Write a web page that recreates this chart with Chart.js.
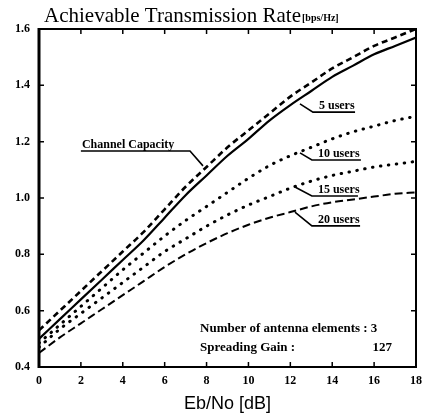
<!DOCTYPE html>
<html>
<head>
<meta charset="utf-8">
<script src="https://cdn.jsdelivr.net/npm/chart.js@4/dist/chart.umd.min.js"></script>
<style>
  html, body { margin: 0; padding: 0; background: #fff; }
  #wrap { width: 425px; height: 420px; }
</style>
</head>
<body>
<div id="wrap"><canvas id="rateChart" width="425" height="420"></canvas></div>
<script>
// values (Eb/No in dB, rate in bps/Hz)
const ebno = [0, 1, 2, 3, 4, 5, 6, 7, 8, 9, 10, 11, 12, 13, 14, 15, 16, 17, 18];
const channelCapacity = [0.53, 0.60, 0.67, 0.74, 0.81, 0.88, 0.96, 1.04, 1.11, 1.18, 1.24, 1.30, 1.36, 1.41, 1.46, 1.50, 1.54, 1.57, 1.60];
const users5  = [0.50, 0.57, 0.64, 0.71, 0.78, 0.85, 0.93, 1.01, 1.08, 1.15, 1.21, 1.275, 1.33, 1.38, 1.43, 1.47, 1.51, 1.54, 1.57];
const users10 = [0.485, 0.55, 0.615, 0.68, 0.745, 0.805, 0.865, 0.92, 0.97, 1.02, 1.07, 1.115, 1.15, 1.18, 1.21, 1.235, 1.255, 1.275, 1.29];
const users15 = [0.47, 0.535, 0.59, 0.645, 0.70, 0.755, 0.81, 0.855, 0.90, 0.94, 0.975, 1.005, 1.035, 1.06, 1.08, 1.095, 1.11, 1.12, 1.13];
const users20 = [0.45, 0.505, 0.555, 0.605, 0.655, 0.705, 0.755, 0.80, 0.84, 0.875, 0.905, 0.93, 0.95, 0.97, 0.985, 0.995, 1.005, 1.015, 1.02];

const xTickValues = [0, 2, 4, 6, 8, 10, 12, 14, 16, 18];
const yTickValues = [0.4, 0.6, 0.8, 1.0, 1.2, 1.4, 1.6];

// curve labels: tip on the curve, elbow, end of underline (data coords)
const curveLabels = [
    { text: 'Channel Capacity', tip: [7.83, 1.114], elbow: [7.21, 1.167], end: [2.0, 1.167] },
    { text: '5 users',  tip: [12.46, 1.334], elbow: [13.08, 1.305], end: [15.09, 1.305] },
    { text: '10 users', tip: [12.46, 1.160], elbow: [13.03, 1.135], end: [15.37, 1.135] },
    { text: '15 users', tip: [12.22, 1.039], elbow: [13.03, 1.007], end: [15.23, 1.007] },
    { text: '20 users', tip: [12.22, 0.950], elbow: [13.03, 0.901], end: [15.33, 0.901] }
];

const serif = "'Liberation Serif', 'Times New Roman', serif";

function pts(ys) {
    return ebno.map((x, i) => ({ x: x, y: ys[i] }));
}

// frame with inward ticks, title and annotations
const paperPlugin = {
    id: 'paper',
    afterDraw(chart) {
        const ctx = chart.ctx;
        const a = chart.chartArea;
        const xs = chart.scales.x, ys = chart.scales.y;
        ctx.save();
        ctx.strokeStyle = '#000';
        ctx.lineWidth = 2;
        ctx.strokeRect(a.left, a.top, a.right - a.left, a.bottom - a.top);
        ctx.lineWidth = 3;
        ctx.beginPath();
        ctx.moveTo(a.left, a.top - 1);
        ctx.lineTo(a.left, a.bottom + 1);
        ctx.stroke();

        ctx.lineWidth = 1.5;
        ctx.beginPath();
        xTickValues.forEach(v => {
            const px = xs.getPixelForValue(v);
            ctx.moveTo(px, a.bottom); ctx.lineTo(px, a.bottom - 5);
            ctx.moveTo(px, a.top); ctx.lineTo(px, a.top + 5);
        });
        yTickValues.forEach(v => {
            const py = ys.getPixelForValue(v);
            ctx.moveTo(a.left, py); ctx.lineTo(a.left + 5, py);
            ctx.moveTo(a.right, py); ctx.lineTo(a.right - 5, py);
        });
        ctx.stroke();

        // title
        ctx.fillStyle = '#000';
        ctx.textBaseline = 'alphabetic';
        ctx.textAlign = 'left';
        ctx.font = '21px ' + serif;
        const t1 = 'Achievable Transmission Rate';
        ctx.fillText(t1, 44, 22);
        const w1 = ctx.measureText(t1).width;
        ctx.font = 'bold 10px ' + serif;
        ctx.fillText('[bps/Hz]', 44 + w1 + 1, 21);

        // curve labels
        ctx.font = 'bold 12px ' + serif;
        ctx.lineWidth = 1.6;
        curveLabels.forEach(l => {
            const tx = xs.getPixelForValue(l.tip[0]), ty = ys.getPixelForValue(l.tip[1]);
            const ex = xs.getPixelForValue(l.elbow[0]), ey = ys.getPixelForValue(l.elbow[1]);
            const nx = xs.getPixelForValue(l.end[0]);
            ctx.beginPath();
            ctx.moveTo(tx, ty);
            ctx.lineTo(ex, ey);
            ctx.lineTo(nx, ey);
            ctx.stroke();
            const left = Math.min(ex, nx);
            ctx.fillText(l.text, left + (nx < ex ? 1 : 6), ey - 3);
        });

        // parameter box
        ctx.font = 'bold 13px ' + serif;
        ctx.fillText('Number of antenna elements : 3', xs.getPixelForValue(7.69), ys.getPixelForValue(0.524));
        ctx.fillText('Spreading Gain :', xs.getPixelForValue(7.69), ys.getPixelForValue(0.457));
        ctx.textAlign = 'right';
        ctx.fillText('127', xs.getPixelForValue(16.85), ys.getPixelForValue(0.457));
        ctx.restore();
    }
};

const ctx = document.getElementById('rateChart').getContext('2d');
new Chart(ctx, {
    type: 'line',
    data: {
        datasets: [
            {
                label: 'Channel Capacity',
                data: pts(channelCapacity),
                borderColor: '#000',
                borderWidth: 2.6,
                borderDash: [6, 4]
            },
            {
                label: '5 users',
                data: pts(users5),
                borderColor: '#000',
                borderWidth: 2.2
            },
            {
                label: '10 users',
                data: pts(users10),
                borderColor: '#000',
                borderWidth: 3,
                borderDash: [0.5, 7.5],
                borderCapStyle: 'round'
            },
            {
                label: '15 users',
                data: pts(users15),
                borderColor: '#000',
                borderWidth: 3,
                borderDash: [0.5, 7.5],
                borderCapStyle: 'round'
            },
            {
                label: '20 users',
                data: pts(users20),
                borderColor: '#000',
                borderWidth: 2,
                borderDash: [8, 4]
            }
        ]
    },
    options: {
        responsive: false,
        animation: false,
        devicePixelRatio: 1,
        layout: {
            padding: { top: 29, right: 9, left: 0, bottom: 0 }
        },
        elements: {
            point: { radius: 0 },
            line: { cubicInterpolationMode: 'monotone', fill: false }
        },
        scales: {
            x: {
                type: 'linear',
                min: 0,
                max: 18,
                afterBuildTicks: s => { s.ticks = xTickValues.map(v => ({ value: v })); },
                afterFit: s => { s.height = 53; s.paddingLeft = 0; s.paddingRight = 0; },
                grid: { display: false, drawTicks: false },
                border: { display: false },
                ticks: {
                    color: '#000',
                    padding: 7,
                    maxRotation: 0,
                    font: { family: serif, size: 12, weight: 'bold' }
                },
                title: {
                    display: true,
                    text: 'Eb/No [dB]',
                    color: '#000',
                    font: { family: "'Liberation Sans', Arial, sans-serif", size: 18 },
                    padding: { top: 0, bottom: 5 }
                }
            },
            y: {
                min: 0.4,
                max: 1.6,
                afterBuildTicks: s => { s.ticks = yTickValues.map(v => ({ value: v })); },
                afterFit: s => { s.width = 39; s.paddingTop = 0; s.paddingBottom = 0; },
                grid: { display: false, drawTicks: false },
                border: { display: false },
                ticks: {
                    color: '#000',
                    padding: 9,
                    font: { family: serif, size: 12, weight: 'bold' },
                    callback: v => v.toFixed(1)
                }
            }
        },
        plugins: {
            legend: { display: false },
            tooltip: { enabled: false }
        }
    },
    plugins: [paperPlugin]
});
</script>
</body>
</html>
